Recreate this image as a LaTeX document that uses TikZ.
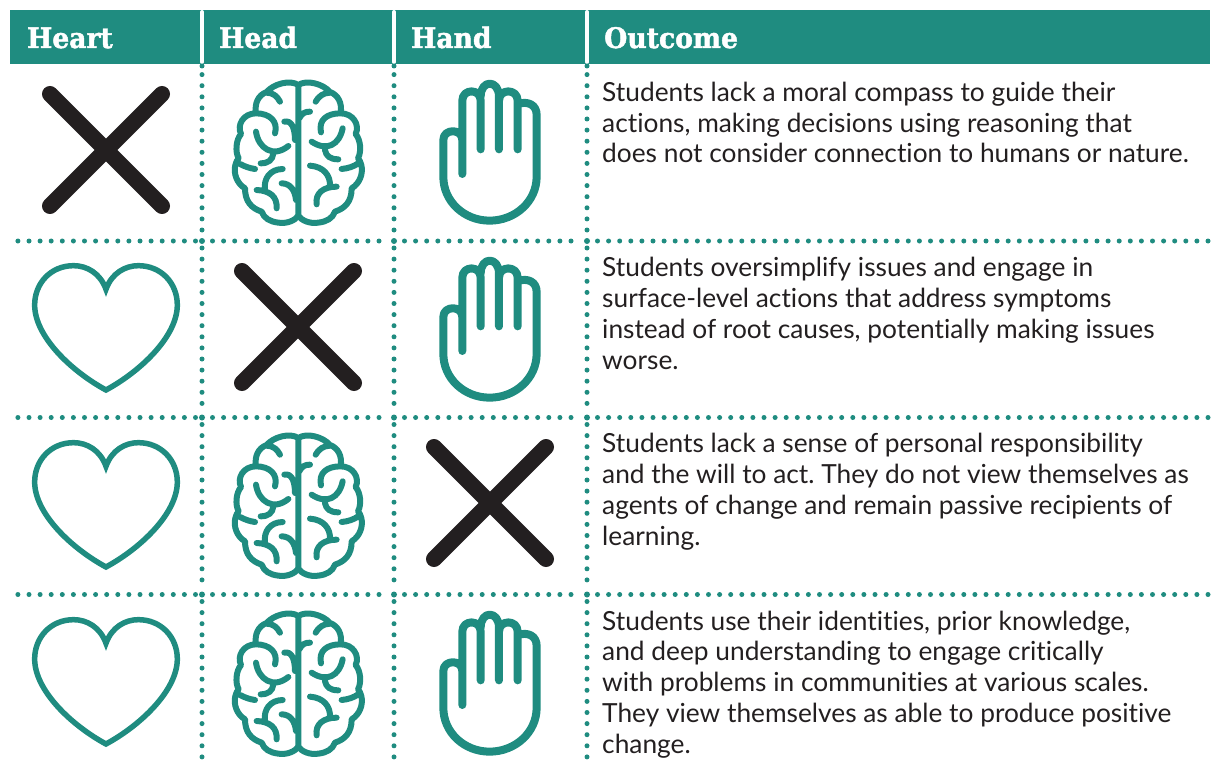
\documentclass[tikz,border=0pt]{standalone}
\usepackage{fontspec}
\setmainfont{Lato}[Ligatures=CommonOff]
\newfontfamily\headfont{DejaVu Serif Bold}[FakeBold=1.6,FakeStretch=0.94]
\definecolor{teal1}{HTML}{1F8C80}
\definecolor{xblack}{HTML}{231F20}
\tikzset{
  x=1pt,y=-1pt,
  iconline/.style={draw=teal1,line cap=round,line join=round,fill=none},
  dotrule/.style={draw=teal1,line width=5pt,line cap=round,dash pattern=on 0pt off 11.1pt},
  headtext/.style={anchor=base west,text=white,font=\headfont\fontsize{28.3}{28}\selectfont,inner sep=0pt},
  bodytext/.style={anchor=base west,text=xblack,font=\fontsize{26.3}{30.7}\selectfont\frenchspacing,inner sep=0pt,align=left},
  crossline/.style={draw=xblack,line width=16pt,line cap=round},
  heartpic/.pic={
    \draw[iconline,line width=5.5pt,line join=miter,miter limit=4]
      (258,118) .. controls (275,70) and (315,47) .. (355,47)
      .. controls (424,47) and (472,100) .. (472,165)
      .. controls (472,260) and (360,365) .. (258,420)
      .. controls (156,365) and (44,260) .. (44,165)
      .. controls (44,100) and (92,47) .. (161,47)
      .. controls (201,47) and (241,70) .. cycle;
  },
  handpic/.pic={
    \draw[iconline,line width=8pt]
      (127,312) -- (127,92) .. controls (127,55) and (182,55) .. (182,92)
      -- (182,238) (182,80) .. controls (182,28) and (237,28) .. (237,80)
      -- (237,238) (237,92) .. controls (237,55) and (293,55) .. (293,92)
      -- (293,238) (293,102) .. controls (325,92) and (350,105) .. (350,135)
      -- (350,320) .. controls (350,395) and (285,452) .. (209,452)
      .. controls (133,452) and (70,395) .. (70,320)
      -- (70,210) .. controls (70,175) and (127,175) .. (127,210);
  },
  brainpic/.pic={
    \draw[iconline,line width=6pt]
      (235,45) -- (235,437)
      (235,437) .. controls (225,452) and (200,462) .. (175,458)
      .. controls (150,455) and (132,445) .. (125,425)
      .. controls (95,415) and (75,395) .. (75,355)
      .. controls (50,340) and (40,310) .. (46,285)
      .. controls (48,275) and (52,270) .. (56,265)
      .. controls (45,245) and (48,210) .. (63,192)
      .. controls (50,165) and (70,130) .. (108,130)
      .. controls (103,100) and (115,75) .. (140,66)
      .. controls (160,42) and (210,28) .. (235,45)
      (235,437) .. controls (245,452) and (270,462) .. (295,458)
      .. controls (320,455) and (338,445) .. (345,425)
      .. controls (375,415) and (395,395) .. (395,355)
      .. controls (420,340) and (430,310) .. (424,285)
      .. controls (422,275) and (418,270) .. (414,265)
      .. controls (425,245) and (422,210) .. (407,192)
      .. controls (420,165) and (400,130) .. (362,130)
      .. controls (367,100) and (355,75) .. (330,66)
      .. controls (310,42) and (260,28) .. (235,45)
      (140,68) .. controls (160,68) and (172,80) .. (180,95)
      (193,155) .. controls (215,150) and (225,175) .. (225,210)
      (108,130) .. controls (150,130) and (175,155) .. (165,190)
      (108,185) .. controls (115,235) and (160,265) .. (205,228)
      (122,280) .. controls (145,280) and (158,270) .. (160,250)
      (105,297) .. controls (90,295) and (75,290) .. (60,282)
      (188,297) .. controls (150,298) and (130,325) .. (135,362)
      (110,360) .. controls (150,362) and (172,380) .. (170,415)
      (185,340) .. controls (210,340) and (225,360) .. (228,390)
      (330,68) .. controls (310,68) and (295,80) .. (287,95)
      (270,125) .. controls (255,125) and (245,130) .. (238,145)
      (362,130) .. controls (320,130) and (295,150) .. (303,187)
      (368,175) .. controls (358,225) and (320,245) .. (275,215)
      (355,268) .. controls (330,268) and (318,258) .. (315,240)
      (365,297) .. controls (385,295) and (400,290) .. (415,280)
      (270,287) .. controls (310,290) and (332,315) .. (330,350)
      (350,350) .. controls (310,350) and (285,370) .. (290,403);
  }
}
\begin{document}
\begin{tikzpicture}
\useasboundingbox (0,0) rectangle (1211,765);
\fill[teal1] (10,10) rectangle (1210,64);
\node[headtext] (h1) at (27,48) {Heart};
\node[headtext] (h2) at (219,48) {Head};
\node[headtext] (h3) at (411,48) {Hand};
\node[headtext] (h4) at (604,48) {Outcome};
\foreach \px in {202,394,587}{
  \draw[white,line width=4pt,line cap=round] (\px,12) -- (\px,62);
  \fill[teal1] (\px,66) circle (2.5pt);
  \draw[dotrule] (\px,230) -- (\px,72);
  \draw[dotrule] (\px,248) -- (\px,410);
  \draw[dotrule] (\px,424.5) -- (\px,587);
  \draw[dotrule] (\px,601.5) -- (\px,762);
}
\foreach \py in {241,417.5,594.5}{
  \draw[dotrule] (195.5,\py) -- (9,\py);
  \draw[dotrule] (212.5,\py) -- (388,\py);
  \draw[dotrule] (404.5,\py) -- (580,\py);
  \draw[dotrule] (597.5,\py) -- (1211,\py);
  \foreach \px in {202,394,587}{ \fill[teal1] (\px,\py) circle (3pt); }
}
\draw[crossline] (50,94) -- (162,206) (162,94) -- (50,206);
\draw[crossline] (242,271) -- (354,383) (354,271) -- (242,383);
\draw[crossline] (434,447) -- (546,559) (546,447) -- (434,559);
\foreach \dy in {0,177,354}{
  \begin{scope}[shift={(20,250+\dy)}]
    \pic[x=0.3333pt,y=-0.3333pt] {heartpic};
  \end{scope}
}
\foreach \dy in {0,353,531}{
  \begin{scope}[shift={(220,70+\dy)}]
    \pic[x=0.3333pt,y=-0.3333pt] {brainpic};
  \end{scope}
}
\foreach \dy in {0,177,531}{
  \begin{scope}[shift={(420,70+\dy)}]
    \pic[x=0.3333pt,y=-0.3333pt] {handpic};
  \end{scope}
}
\node[bodytext] (t1) at (602,163) {Students lack a moral compass to guide their\\actions, making decisions using reasoning that\\does not consider connection to humans or nature.};
\node[bodytext] (t2) at (602,369) {Students oversimplify issues and engage in\\surface-level actions that address symptoms\\instead of root causes, potentially making issues\\worse.};
\node[bodytext] (t3) at (602,545) {Students lack a sense of personal responsibility\\and the will to act. They do not view themselves as\\agents of change and remain passive recipients of\\learning.};
\node[bodytext] (t4) at (602,753) {Students use their identities, prior knowledge,\\and deep understanding to engage critically\\with problems in communities at various scales.\\They view themselves as able to produce positive\\change.};
\end{tikzpicture}
\end{document}
